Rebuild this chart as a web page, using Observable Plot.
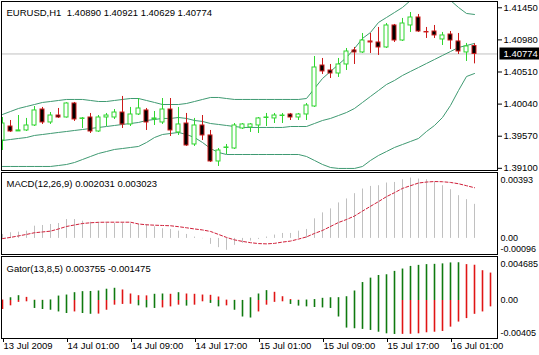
<!DOCTYPE html>
<html>
<head>
<meta charset="utf-8">
<script src="https://cdn.jsdelivr.net/npm/d3@7"></script>
<script src="https://cdn.jsdelivr.net/npm/@observablehq/plot@0.6"></script>
<style>
html,body{margin:0;padding:0;background:#ffffff;}
#chart{position:relative;width:539px;height:355px;overflow:hidden;background:#ffffff;}
#chart svg{position:absolute;left:0;}
</style>
</head>
<body>
<div id="chart"></div>
<script>
// ---- Candles (EURUSD H1), bar 0 = 13 Jul 2009 17:00 ----
const opens  = [1.39507,1.39712,1.39640,1.39654,1.39727,1.39961,1.39771,1.39873,1.39844,1.40049,1.39823,1.39844,1.39639,1.39844,1.39844,1.39917,1.39742,1.39888,1.39947,1.39815,1.39771,1.39961,1.39625,1.39756,1.39449,1.39727,1.39581,1.39200,1.39398,1.39390,1.39683,1.39698,1.39727,1.39837,1.39830,1.39866,1.39888,1.39844,1.39888,1.40005,1.40605,1.40532,1.40488,1.40620,1.40825,1.40796,1.40957,1.40942,1.40869,1.41191,1.40971,1.41191,1.41308,1.41096,1.41103,1.40986,1.41059,1.40957,1.40796,1.40890];
const highs  = [1.39844,1.39800,1.39873,1.39830,1.40005,1.39991,1.39917,1.39976,1.40060,1.40064,1.39844,1.39903,1.39873,1.39903,1.39961,1.40152,1.39991,1.40122,1.39976,1.39932,1.40122,1.40122,1.39991,1.39903,1.39830,1.39873,1.39654,1.39390,1.39449,1.39756,1.39756,1.39756,1.39844,1.39903,1.39903,1.39903,1.39903,1.39903,1.40049,1.40737,1.40708,1.40620,1.40708,1.40854,1.40869,1.41074,1.41074,1.41162,1.41220,1.41206,1.41294,1.41381,1.41352,1.41162,1.41191,1.41089,1.41103,1.41074,1.40928,1.40921];
const lows   = [1.39361,1.39625,1.39639,1.39639,1.39712,1.39742,1.39742,1.39830,1.39835,1.39786,1.39683,1.39610,1.39625,1.39712,1.39815,1.39683,1.39712,1.39873,1.39654,1.39727,1.39742,1.39566,1.39581,1.39420,1.39420,1.39507,1.39185,1.39127,1.39302,1.39376,1.39668,1.39625,1.39610,1.39712,1.39756,1.39756,1.39800,1.39800,1.39800,1.39991,1.40474,1.40415,1.40430,1.40532,1.40620,1.40781,1.40781,1.40752,1.40854,1.40942,1.40957,1.41089,1.41089,1.41001,1.41001,1.40898,1.40840,1.40766,1.40664,1.40629];
const closes = [1.39756,1.39639,1.39655,1.39727,1.39947,1.39771,1.39873,1.39844,1.40049,1.39815,1.39830,1.39639,1.39844,1.39873,1.39917,1.39742,1.39888,1.39976,1.39771,1.39830,1.39961,1.39654,1.39742,1.39434,1.39727,1.39581,1.39200,1.39361,1.39405,1.39727,1.39742,1.39742,1.39830,1.39844,1.39873,1.39873,1.39844,1.39888,1.40020,1.40576,1.40518,1.40488,1.40620,1.40810,1.40796,1.40971,1.40942,1.40869,1.41191,1.40971,1.41220,1.41308,1.41103,1.41089,1.41045,1.41045,1.40971,1.40810,1.40884,1.40774];

// ---- Bollinger bands ----
const bbUpper  = [1.39888,1.39932,1.39976,1.40005,1.40034,1.40064,1.40078,1.40093,1.40108,1.40108,1.40108,1.40093,1.40078,1.40078,1.40093,1.40108,1.40122,1.40122,1.40093,1.40064,1.40034,1.40034,1.40034,1.40049,1.40078,1.40108,1.40137,1.40137,1.40122,1.40108,1.40108,1.40108,1.40108,1.40108,1.40108,1.40108,1.40108,1.40108,1.40122,1.40269,1.40415,1.40518,1.40620,1.40723,1.40854,1.41001,1.41089,1.41235,1.41308,1.41381,1.41455,1.41557,1.41630,1.41674,1.41674,1.41630,1.41557,1.41455,1.41367,1.41352];
const bbMiddle = [1.39507,1.39522,1.39537,1.39551,1.39581,1.39595,1.39610,1.39625,1.39639,1.39654,1.39668,1.39683,1.39698,1.39712,1.39727,1.39742,1.39756,1.39771,1.39800,1.39815,1.39830,1.39830,1.39844,1.39830,1.39800,1.39786,1.39756,1.39742,1.39727,1.39712,1.39698,1.39698,1.39698,1.39698,1.39698,1.39698,1.39712,1.39712,1.39712,1.39756,1.39800,1.39830,1.39873,1.39917,1.39976,1.40064,1.40152,1.40239,1.40327,1.40386,1.40459,1.40518,1.40576,1.40635,1.40693,1.40752,1.40810,1.40869,1.40898,1.40928];
const bbLower  = [1.39127,1.39127,1.39127,1.39127,1.39127,1.39127,1.39127,1.39141,1.39156,1.39185,1.39229,1.39273,1.39317,1.39346,1.39376,1.39390,1.39405,1.39420,1.39478,1.39551,1.39595,1.39610,1.39625,1.39595,1.39551,1.39478,1.39390,1.39332,1.39302,1.39302,1.39302,1.39302,1.39302,1.39302,1.39302,1.39302,1.39302,1.39302,1.39273,1.39215,1.39156,1.39112,1.39098,1.39098,1.39098,1.39127,1.39215,1.39288,1.39346,1.39405,1.39449,1.39493,1.39537,1.39639,1.39727,1.39844,1.40020,1.40239,1.40444,1.40488];

// ---- MACD(12,26,9) ----
const macdHist   = [0.000237,0.000338,0.000373,0.000433,0.000729,0.000771,0.00083,0.000889,0.001126,0.001126,0.001026,0.000966,0.000931,0.000931,0.000889,0.000931,0.000871,0.00083,0.00083,0.000694,0.000575,0.000534,0.000433,0.000237,0.000077,-0.00002,-0.000356,-0.000551,-0.000711,-0.000415,-0.000296,-0.00016,-0.00006,0.00008,0.0002,0.000296,0.000296,0.000433,0.000534,0.001168,0.001523,0.001761,0.002116,0.002353,0.002668,0.002946,0.0031,0.003142,0.003302,0.003337,0.003498,0.003598,0.003539,0.003498,0.003337,0.003142,0.002905,0.002549,0.002312,0.002031];
const macdSignal = [-0.000012,0.000059,0.000148,0.000237,0.000338,0.000385,0.000433,0.000563,0.000711,0.0008,0.000889,0.000931,0.00096,0.000966,0.000966,0.000966,0.000966,0.00086,0.000812,0.000788,0.000771,0.000753,0.0007,0.000634,0.000563,0.000504,0.000415,0.000237,0.000059,-0.000089,-0.000178,-0.000255,-0.000308,-0.000326,-0.000296,-0.000219,-0.00016,-0.000041,0.000089,0.000296,0.000474,0.000711,0.000948,0.001126,0.001334,0.00163,0.001915,0.002193,0.00249,0.002727,0.002982,0.003142,0.003302,0.003361,0.003391,0.003379,0.003337,0.00326,0.003142,0.003023];

// ---- Gator(13,8,5) (extends 2 bars past the last candle) ----
const gatorUpper = [0.00005,0.00029,0.00051,0.00033,0.00003,0.00002,0.00006,0.00047,0.00058,0.00083,0.00094,0.00096,0.00101,0.0012,0.0013,0.00112,0.00069,0.00051,0.00049,0.00066,0.00069,0.00066,0.00083,0.00069,0.00066,0.00058,0.00055,0.00037,0.00004,0.00002,0.00001,0.00029,0.00069,0.00105,0.00087,0.0004,0.0001,0.00003,0.00005,0.0001,0.00023,0.00029,0.0003,0.0004,0.00101,0.00191,0.00238,0.00266,0.00274,0.0031,0.00335,0.00363,0.00374,0.00382,0.00385,0.0039,0.004,0.00402,0.00382,0.003755,0.00317,0.00292];
const gatorUpperColor = "rggrrrgggggggggrrrrggrgrrrrrrrrgggrrrrggggggggggggggggggggrrrr".split("");
const gatorLower = [-0.00096,-0.00057,-0.0002,-0.00014,-0.00085,-0.00096,-0.00104,-0.00122,-0.00139,-0.00122,-0.00139,-0.00147,-0.00145,-0.00104,-0.0005,-0.00042,-0.0004,-0.00057,-0.00079,-0.00085,-0.00079,-0.00068,-0.0005,-0.0006,-0.0005,-0.00014,-0.00031,-0.00068,-0.00057,-0.00104,-0.00176,-0.00187,-0.00122,-0.0005,-0.0002,-0.00014,-0.00042,-0.0006,-0.00068,-0.00075,-0.00079,-0.00085,-0.00176,-0.00294,-0.00301,-0.00308,-0.00319,-0.00338,-0.00355,-0.00362,-0.00361,-0.0036,-0.00355,-0.00344,-0.00338,-0.0033,-0.00284,-0.0023,-0.00193,-0.001475,-0.00122,-0.00068];
const gatorLowerColor = "rrrrgggggrggrrrrrgggrrrgrrggrgggrrrrggggggggggggggrrrrrrrrrrrr".split("");

// ---- Axis labels ----
const priceTicks = [1.41450, 1.40980, 1.40510, 1.40040, 1.39570, 1.39100];
const macdTicks = [0.00393, 0, -0.00096];
const macdTickLabels = ["0.00393", "0.00", "-0.00096"];
const gatorTicks = [0.004685, 0, -0.00405];
const gatorTickLabels = ["0.004685", "0.00", "-0.00405"];
const timeTickBars = [0, 8, 16, 24, 32, 40, 48, 56];
const timeTickLabels = ["13 Jul 2009", "14 Jul 01:00", "14 Jul 09:00", "14 Jul 17:00", "15 Jul 01:00", "15 Jul 09:00", "15 Jul 17:00", "16 Jul 01:00"];
const mainTitle = "EURUSD,H1\u00a0\u00a01.40890 1.40921 1.40629 1.40774";
const macdTitle = "MACD(12,26,9) 0.002031 0.003023";
const gatorTitle = "Gator(13,8,5) 0.003755 -0.001475";

// ---- styling ----
const FONT = '"Liberation Sans", Arial, sans-serif';
const UP = "#2fd52f", DOWN = "#cc1a1a", BB = "#3f9a72", GREY = "#c0c0c0";
const G_GREEN = "#0f7a0f", G_RED = "#e01515", SIG = "#d0203a";

const candles = opens.map((o, i) => ({i, open: o, high: highs[i], low: lows[i], close: closes[i], up: closes[i] >= o}));
const bands = bbUpper.map((u, i) => ({i, upper: u, middle: bbMiddle[i], lower: bbLower[i]}));
const macd = macdHist.map((h, i) => ({i, hist: h, signal: macdSignal[i]}));
const gator = gatorUpper.map((u, i) => ({i, up: u, upC: gatorUpperColor[i], dn: gatorLower[i], dnC: gatorLowerColor[i]}));
const lastClose = closes[closes.length - 1];
const lastLabel = lastClose.toFixed(5);

const W = 539;
const common = {
  width: W, marginLeft: 1, marginRight: 42,
  style: {fontFamily: FONT, fontSize: "9.5px", background: "transparent", overflow: "visible", color: "black"}
};
const xScale = {domain: [-0.125, 61.875], label: null};

function subAxis(values, labels) {
  const lab = new Map(values.map((v, k) => [v, labels[k]]));
  const fmt = d => lab.get(d);
  const o = {anchor: "right", tickSize: 0, tickPadding: 3, fontSize: 9, tickFormat: fmt};
  return [
    Plot.axisY([values[0]], {...o, dy: 8}),
    Plot.axisY([values[1]], {...o}),
    Plot.axisY([values[2]], {...o, dy: -5})
  ];
}

const mainPlot = Plot.plot({
  ...common, height: 172, marginTop: 1, marginBottom: 2,
  x: {...xScale, axis: null},
  y: {domain: [1.39068, 1.41542], label: null},
  marks: [
    Plot.ruleY([lastClose], {stroke: GREY}),
    Plot.line(bands, {x: "i", y: "upper", stroke: BB, strokeWidth: 1, clip: true}),
    Plot.line(bands, {x: "i", y: "middle", stroke: BB, strokeWidth: 1, clip: true}),
    Plot.line(bands, {x: "i", y: "lower", stroke: BB, strokeWidth: 1, clip: true}),
    Plot.ruleX(candles, {x: "i", y1: "low", y2: "high", stroke: d => d.up ? UP : DOWN, clip: true}),
    Plot.rect(candles, {x1: d => d.i - 0.25, x2: d => d.i + 0.25, y1: "open", y2: "close",
      fill: d => d.up ? "white" : "black", stroke: d => d.up ? UP : DOWN, clip: true}),
    Plot.frame({stroke: "black"}),
    Plot.axisY(priceTicks, {anchor: "right", tickSize: 4, tickPadding: 2, tickFormat: d => d.toFixed(5)}),
    Plot.text([mainTitle], {frameAnchor: "top-left", dx: 5, dy: 11, textAnchor: "start", lineAnchor: "middle", fill: "black"}),
    Plot.text([lastClose], {y: d => d, frameAnchor: "right", dx: 6, textAnchor: "start", fill: "white",
      text: d => d.toFixed(5)})
  ]
});

const macdPlot = Plot.plot({
  ...common, height: 86, marginTop: 2, marginBottom: 2,
  x: {...xScale, axis: null},
  y: {domain: [-0.00096, 0.00393], label: null},
  marks: [
    Plot.ruleX(macd, {x: "i", y1: 0, y2: "hist", stroke: GREY, strokeWidth: 1}),
    Plot.line(macd, {x: "i", y: "signal", stroke: SIG, strokeWidth: 1, strokeDasharray: "3,2"}),
    Plot.frame({stroke: "black"}),
    ...subAxis(macdTicks, macdTickLabels),
    Plot.text([macdTitle], {frameAnchor: "top-left", dx: 5, dy: 11, textAnchor: "start", lineAnchor: "middle", fill: "black"})
  ]
});

const gatorPlot = Plot.plot({
  ...common, height: 101, marginTop: 2, marginBottom: 17,
  x: {...xScale},
  y: {domain: [-0.00405, 0.004685], label: null},
  marks: [
    Plot.ruleX(gator, {x: "i", y1: 0, y2: "up", stroke: d => d.upC === "g" ? G_GREEN : G_RED, strokeWidth: 1.6}),
    Plot.ruleX(gator, {x: "i", y1: 0, y2: "dn", stroke: d => d.dnC === "g" ? G_GREEN : G_RED, strokeWidth: 1.6}),
    Plot.frame({stroke: "black"}),
    ...subAxis(gatorTicks, gatorTickLabels),
    Plot.axisX(timeTickBars, {anchor: "bottom", tickSize: 4, tickPadding: 0, textAnchor: "start", dx: 1, label: null,
      tickFormat: d => timeTickLabels[timeTickBars.indexOf(d)]}),
    Plot.text([gatorTitle], {frameAnchor: "top-left", dx: 5, dy: 12, textAnchor: "start", lineAnchor: "middle", fill: "black"})
  ]
});

const chart = document.getElementById("chart");
mainPlot.style.top = "0px";
macdPlot.style.top = "170px";
gatorPlot.style.top = "254px";
chart.append(mainPlot, macdPlot, gatorPlot);

// black box behind the last-price label, sized from the rendered text
mainPlot.querySelectorAll("text").forEach(function (t) {
  if (t.textContent.trim() === lastLabel) {
    const bb = t.getBBox();
    const rect = document.createElementNS("http://www.w3.org/2000/svg", "rect");
    rect.setAttribute("x", bb.x - 4);
    rect.setAttribute("y", bb.y - 0.5);
    rect.setAttribute("width", bb.width + 6);
    rect.setAttribute("height", bb.height + 1);
    rect.setAttribute("fill", "black");
    const tr = t.getAttribute("transform");
    if (tr) rect.setAttribute("transform", tr);
    t.parentNode.insertBefore(rect, t);
  }
});
</script>
</body>
</html>
